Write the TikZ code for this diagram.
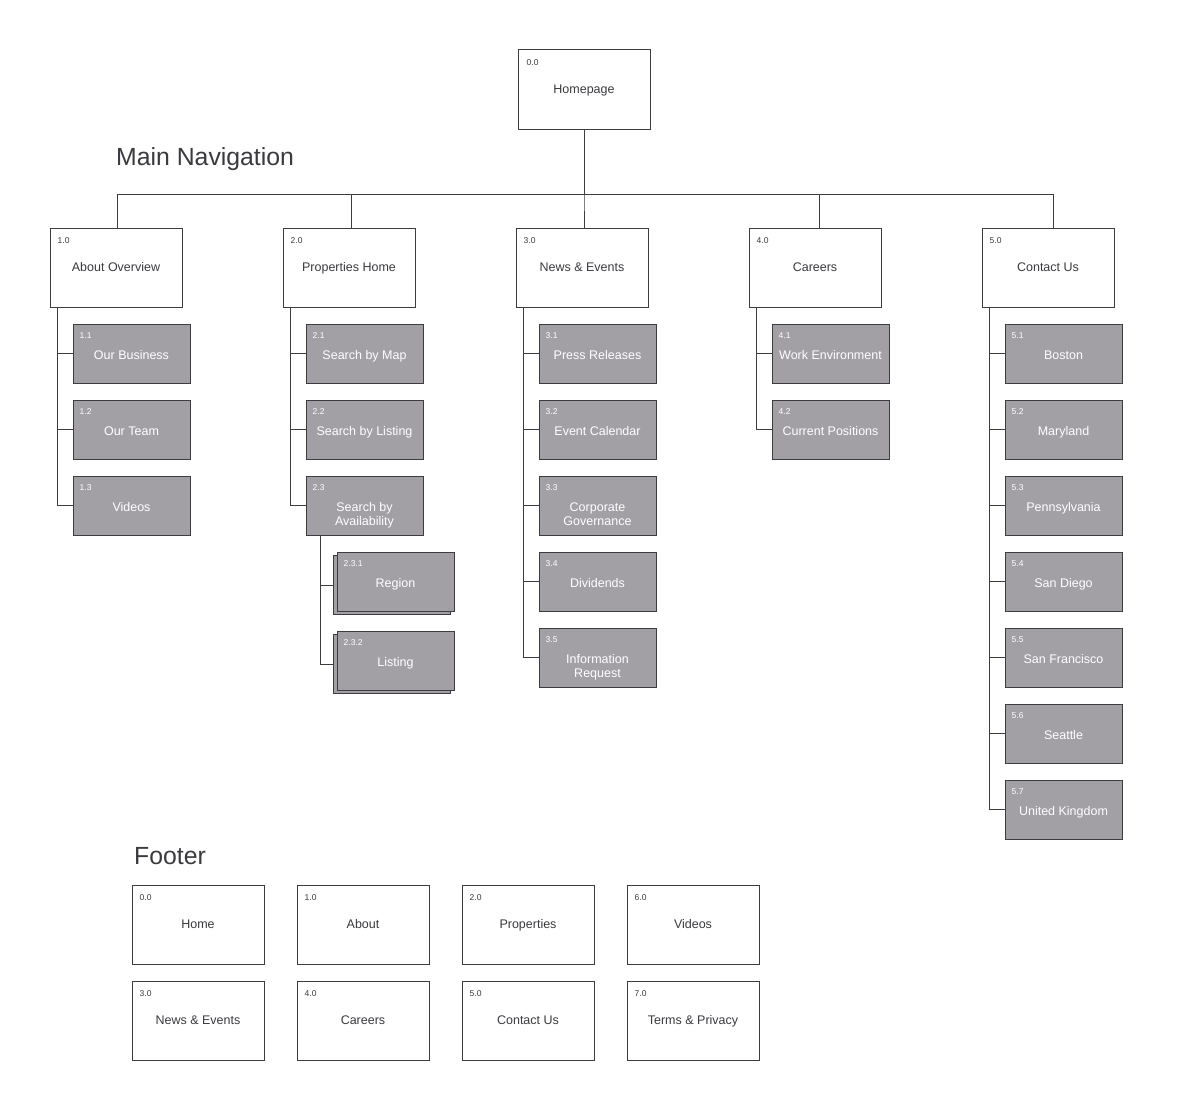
\documentclass[tikz,border=0pt]{standalone}
\usepackage{fontspec}
\setmainfont{Liberation Sans}
\usepackage{xcolor}
\usepackage{tikz}
\usetikzlibrary{positioning}
\definecolor{iaInk}{HTML}{3A3A3F}
\definecolor{iaLine}{HTML}{3C3C41}
\definecolor{iaFill}{HTML}{A29FA5}
\definecolor{iaPaper}{HTML}{FFFFFF}
\newcommand{\iapagefont}{\fontsize{12.5}{14.5}\selectfont}
\newcommand{\ianumfont}{\fontsize{8.5}{10}\selectfont}
\newcommand{\iatitlefont}{\fontsize{24.8}{28}\selectfont}
\newcommand{\iastrut}{\rule{0pt}{12pt}}
\tikzset{
  ia diagram/.style={text=iaInk, line join=miter},
  ia page/.style={draw=iaLine, fill=iaPaper, line width=1pt,
    minimum width=132pt, minimum height=79pt, inner sep=0pt},
  ia sub/.style={ia page, fill=iaFill, minimum width=117pt, minimum height=59pt},
  ia text/.style={anchor=north, inner sep=0pt, align=center, font=\iapagefont},
  ia sub text/.style={ia text, text=white},
  ia num/.style={anchor=base west, inner sep=0pt, font=\ianumfont},
  ia sub num/.style={ia num, text=white},
  ia link/.style={draw=iaLine, line width=1pt},
  ia title/.style={anchor=base west, inner sep=0pt, font=\iatitlefont}
}
\begin{document}
\begin{tikzpicture}[ia diagram,x=1pt,y=-1pt]
\useasboundingbox[fill=white] (0,0) rectangle (1178,1108);
% homepage
\node[ia page] (home) at (584,89.5) {};
\node[ia text] (home-lbl) at ([shift={(0,31.5)}]home.north) {\iastrut Homepage};
\node[ia num] (home-nr) at ([shift={(9,16)}]home.north west) {0.0};
\node[ia title] (mainnav) at (116,165) {Main Navigation};
% main sections
\foreach \x/\dx/\nr/\lbl [count=\i] in {116/1/1.0/About Overview,349/2/2.0/Properties Home,
    582/2/3.0/News \& Events,815/4/4.0/Careers,1048/5/5.0/Contact Us}{
  \node[ia page] (s\i) at (\x,267.5) {};
  \node[ia text] (s\i-lbl) at ([shift={(0,31.5)}]s\i.north) {\iastrut\lbl};
  \node[ia num] (s\i-nr) at ([shift={(8,16)}]s\i.north west) {\nr};
  \draw[ia link] (home.south) -- ++(0,65) -| ([xshift=\dx pt]s\i.north);
}
% about
\foreach \nr/\lbl [count=\j] in {1.1/Our Business,1.2/Our Team,1.3/Videos}{
  \node[ia sub] (s1-\j) at (131.5,277.5+76*\j) {};
  \node[ia sub text] (s1-\j-lbl) at ([shift={(0,23.5)}]s1-\j.north) {\iastrut\lbl};
  \node[ia sub num] (s1-\j-nr) at ([shift={(7,15)}]s1-\j.north west) {\nr};
  \draw[ia link] ([xshift=8pt]s1.south west) |- (s1-\j.west);
}
% properties
\foreach \nr/\lbl [count=\j] in {2.1/Search by Map,2.2/Search by Listing,2.3/Search by\\Availability}{
  \node[ia sub] (s2-\j) at (364.5,277.5+76*\j) {};
  \node[ia sub text] (s2-\j-lbl) at ([shift={(0,23.5)}]s2-\j.north) {\iastrut\lbl};
  \node[ia sub num] (s2-\j-nr) at ([shift={(7,15)}]s2-\j.north west) {\nr};
  \draw[ia link] ([xshift=8pt]s2.south west) |- (s2-\j.west);
}
\foreach \nr/\lbl [count=\j] in {2.3.1/Region,2.3.2/Listing}{
  \node[ia sub] (s2-3-\j-back) at (392,{506+79*\j}) {};
  \node[ia sub] (s2-3-\j) at (395.5,{502.5+79*\j}) {};
  \node[ia sub text] (s2-3-\j-lbl) at ([shift={(0,23.5)}]s2-3-\j.north) {\iastrut\lbl};
  \node[ia sub num] (s2-3-\j-nr) at ([shift={(7,15)}]s2-3-\j.north west) {\nr};
  \draw[ia link] ([xshift=15pt]s2-3.south west) |- (s2-3-\j-back.west);
}
% news
\foreach \nr/\lbl [count=\j] in {3.1/Press Releases,3.2/Event Calendar,3.3/Corporate\\Governance,
    3.4/Dividends,3.5/Information\\Request}{
  \node[ia sub] (s3-\j) at (597.5,277.5+76*\j) {};
  \node[ia sub text] (s3-\j-lbl) at ([shift={(0,23.5)}]s3-\j.north) {\iastrut\lbl};
  \node[ia sub num] (s3-\j-nr) at ([shift={(7,15)}]s3-\j.north west) {\nr};
  \draw[ia link] ([xshift=8pt]s3.south west) |- (s3-\j.west);
}
% careers
\foreach \nr/\lbl [count=\j] in {4.1/Work Environment,4.2/Current Positions}{
  \node[ia sub] (s4-\j) at (830.5,277.5+76*\j) {};
  \node[ia sub text] (s4-\j-lbl) at ([shift={(0,23.5)}]s4-\j.north) {\iastrut\lbl};
  \node[ia sub num] (s4-\j-nr) at ([shift={(7,15)}]s4-\j.north west) {\nr};
  \draw[ia link] ([xshift=8pt]s4.south west) |- (s4-\j.west);
}
% contact
\foreach \nr/\lbl [count=\j] in {5.1/Boston,5.2/Maryland,5.3/Pennsylvania,5.4/San Diego,
    5.5/San Francisco,5.6/Seattle,5.7/United Kingdom}{
  \node[ia sub] (s5-\j) at (1063.5,277.5+76*\j) {};
  \node[ia sub text] (s5-\j-lbl) at ([shift={(0,23.5)}]s5-\j.north) {\iastrut\lbl};
  \node[ia sub num] (s5-\j-nr) at ([shift={(7,15)}]s5-\j.north west) {\nr};
  \draw[ia link] ([xshift=8pt]s5.south west) |- (s5-\j.west);
}
% footer
\node[ia title] (footer) at (134,864) {Footer};
\foreach \x/\y/\nr/\lbl [count=\k] in {198/924.5/0.0/Home,363/924.5/1.0/About,
    528/924.5/2.0/Properties,693/924.5/6.0/Videos,198/1020.5/3.0/News \& Events,
    363/1020.5/4.0/Careers,528/1020.5/5.0/Contact Us,693/1020.5/7.0/Terms \& Privacy}{
  \node[ia page] (f\k) at (\x,\y) {};
  \node[ia text] (f\k-lbl) at ([shift={(0,31.5)}]f\k.north) {\iastrut\lbl};
  \node[ia num] (f\k-nr) at ([shift={(8,16)}]f\k.north west) {\nr};
}
\end{tikzpicture}
\end{document}
